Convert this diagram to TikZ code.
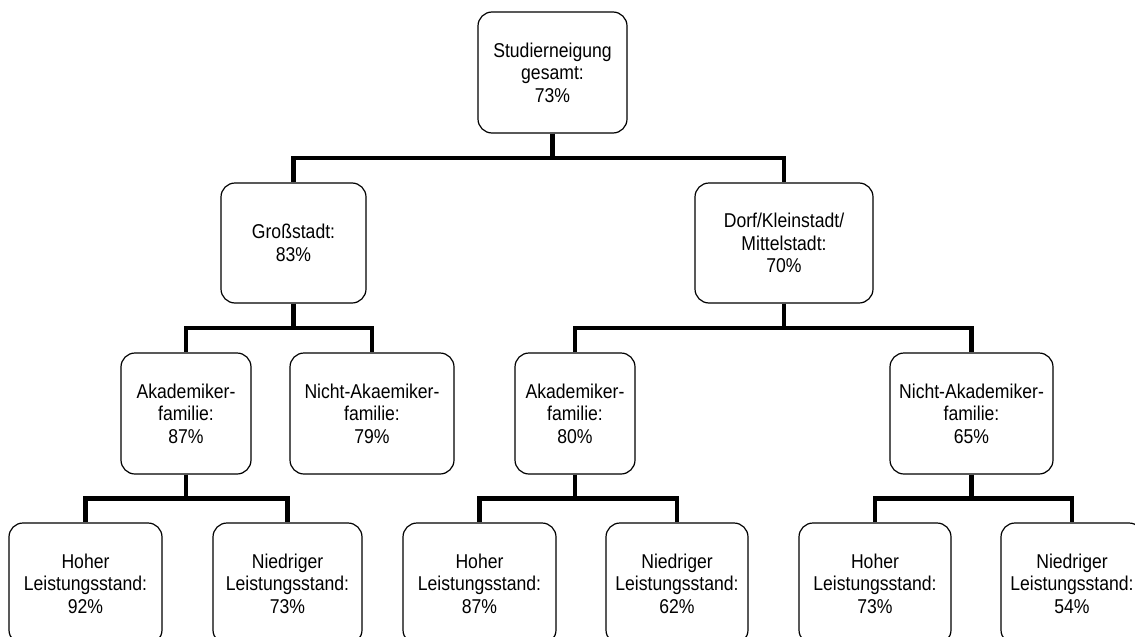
\documentclass[tikz,border=0pt]{standalone}
\usepackage{fontspec}
\setmainfont[FakeStretch=0.88]{Liberation Sans}
\usetikzlibrary{calc}

\tikzset{
  x=1pt, y=-1pt,
  box/.style={draw=black, line width=1.2pt, rounded corners=14pt, fill=white,
    inner sep=0pt, align=center, font=\fontsize{20}{22.5}\selectfont},
  conn/.style={line width=4.2pt, line join=miter, draw=black},
  branch/.style={to path={(\tikztostart) |- ($(\tikztostart)!0.5!(\tikztotarget)$)
    -| (\tikztotarget)}}
}

% place a box by its left, top, right and bottom edges
\newcommand{\boxat}[6]{%
  \node[box, minimum width=#4-#2, minimum height=#6-#3] (#1)
    at ({(#2+#4)/2},{(#3+#6)/2}) {#5};}

\begin{document}
\begin{tikzpicture}
  \useasboundingbox (0,0) rectangle (1135,637);

  % level 0
  \boxat{top}{478}{12}{627}{Studierneigung\\gesamt:\\73\%}{133}
  % level 1
  \boxat{gross}{221}{183}{366}{Großstadt:\\83\%}{303}
  \boxat{dorf}{695}{183}{873}{Dorf/Kleinstadt/\\Mittelstadt:\\70\%}{303}
  % level 2
  \boxat{akL}{121}{353}{251}{Akademiker-\\familie:\\87\%}{474}
  \boxat{nakL}{290}{353}{454}{Nicht-Akaemiker-\\familie:\\79\%}{474}
  \boxat{akR}{515}{353}{635}{Akademiker-\\familie:\\80\%}{474}
  \boxat{nakR}{890}{353}{1053}{Nicht-Akademiker-\\familie:\\65\%}{474}
  % level 3
  \boxat{h1}{9}{523}{162}{Hoher\\Leistungsstand:\\92\%}{644}
  \boxat{n1}{213}{523}{362}{Niedriger\\Leistungsstand:\\73\%}{644}
  \boxat{h2}{403}{523}{556}{Hoher\\Leistungsstand:\\87\%}{644}
  \boxat{n2}{606}{523}{748}{Niedriger\\Leistungsstand:\\62\%}{644}
  \boxat{h3}{799}{523}{951}{Hoher\\Leistungsstand:\\73\%}{644}
  \boxat{n3}{1001}{523}{1143}{Niedriger\\Leistungsstand:\\54\%}{644}

  % connectors
  \draw[conn] (top.south) to[branch] (gross.north);
  \draw[conn] (top.south) to[branch] (dorf.north);
  \draw[conn] (gross.south) to[branch] (akL.north);
  \draw[conn] (gross.south) to[branch] (nakL.north);
  \draw[conn] (dorf.south) to[branch] (akR.north);
  \draw[conn] (dorf.south) to[branch] (nakR.north);
  \draw[conn] (akL.south) to[branch] (h1.north);
  \draw[conn] (akL.south) to[branch] (n1.north);
  \draw[conn] (akR.south) to[branch] (h2.north);
  \draw[conn] (akR.south) to[branch] (n2.north);
  \draw[conn] (nakR.south) to[branch] (h3.north);
  \draw[conn] (nakR.south) to[branch] (n3.north);
\end{tikzpicture}
\end{document}
